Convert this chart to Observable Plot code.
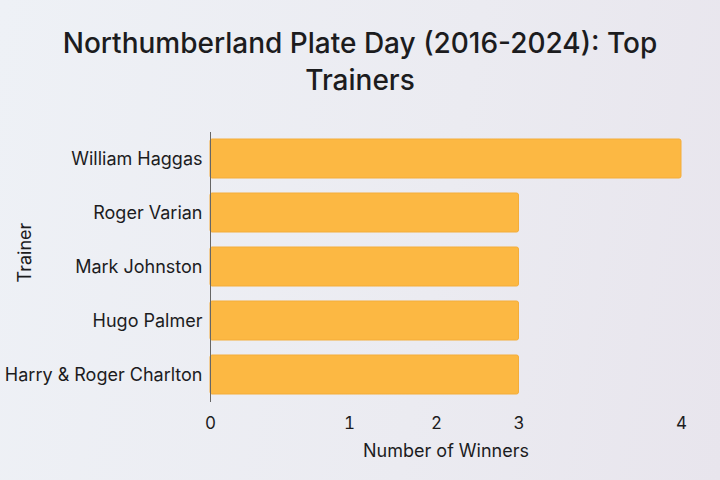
<!DOCTYPE html>
<html>
<head>
<meta charset="utf-8">
<script src="https://cdn.jsdelivr.net/npm/d3@7"></script>
<script src="https://cdn.jsdelivr.net/npm/@observablehq/plot@0.6"></script>
<style>
  html, body { margin: 0; padding: 0; }
  body {
    width: 720px; height: 480px; overflow: hidden;
    background: linear-gradient(100deg, #eef1f6 0%, #ebebf1 60%, #e8e5ed 100%);
    font-family: Inter, "Noto Sans", sans-serif;
  }
  #title {
    width: 680px; margin: 0 auto; padding-top: 25px; height: 110px; box-sizing: border-box;
    text-align: center; font-size: 28px; font-weight: 500; line-height: 37px; color: #1c1c1e;
  }
  #chart svg { display: block; background: transparent; }
</style>
</head>
<body>
<div id="title">Northumberland Plate Day (2016-2024): Top<br>Trainers</div>
<div id="chart"></div>
<script>
const trainers = ["William Haggas", "Roger Varian", "Mark Johnston", "Hugo Palmer", "Harry & Roger Charlton"];
const winners = [4, 3, 3, 3, 3];
const xTicks = [0, 1, 2, 3, 4];
// the reference's x axis is not evenly spaced: where each tick sits along the 0–4 span
const xTickPlaces = [0, 1.18, 1.92, 2.62, 4];

const data = trainers.map((t, i) => ({trainer: t, winners: winners[i]}));
const warp = d3.scaleLinear(xTicks, xTickPlaces);

const chart = Plot.plot({
  width: 720,
  height: 370,
  marginTop: 22,
  marginBottom: 78,
  marginLeft: 210,
  marginRight: 39,
  style: {background: "transparent", fontFamily: "Inter, 'Noto Sans', sans-serif", color: "#1c1c1e"},
  x: {
    transform: warp,
    domain: [0, 4],
    ticks: xTickPlaces,
    tickFormat: (d) => String(xTicks[xTickPlaces.indexOf(d)]),
    tickSize: 0,
    tickPadding: 14,
    label: "Number of Winners",
    labelAnchor: "center",
    labelOffset: 54
  },
  y: {
    domain: trainers,
    paddingInner: 0.27,
    paddingOuter: 0.09,
    tickSize: 0,
    tickPadding: 8,
    label: "Trainer",
    labelAnchor: "center",
    labelOffset: 192
  },
  marks: [
    Plot.barX(data, {x: "winners", y: "trainer", fill: "#fcb843", stroke: "#f4ad3a", strokeWidth: 1, rx: 2}),
    Plot.ruleX([0], {stroke: "#666", strokeWidth: 1})
  ]
});
chart.querySelectorAll("[aria-label='x-axis tick label']").forEach(g => g.setAttribute("font-size", "17"));
chart.querySelectorAll("[aria-label='y-axis tick label']").forEach(g => g.setAttribute("font-size", "18"));
chart.querySelectorAll("[aria-label='x-axis label'], [aria-label='y-axis label']").forEach(g => g.setAttribute("font-size", "18"));
chart.querySelectorAll("[aria-label='x-axis label'] text, [aria-label='y-axis label'] text").forEach(t => {
  t.textContent = t.textContent.replace(/\s*[→↑←↓]\s*/g, "");
});
chart.querySelectorAll("[aria-label='y-axis label'] text").forEach(t => t.setAttribute("dx", "15"));
document.getElementById("chart").appendChild(chart);
</script>
</body>
</html>
